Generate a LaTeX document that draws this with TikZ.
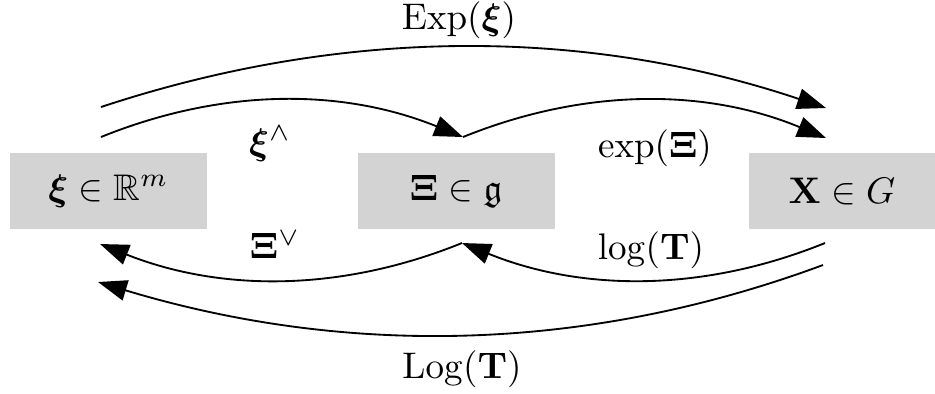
\documentclass[tikz,border=0pt]{standalone}
\usepackage{amsmath,amssymb,bm}
\usetikzlibrary{arrows.meta}
\definecolor{boxgray}{RGB}{211,211,211}
\tikzset{
  setbox/.style={fill=boxgray, draw=none, minimum width=197*0.27pt, minimum height=76*0.27pt, inner sep=0pt},
  maparrow/.style={line width=0.5pt, -{Triangle[length=7.8pt,width=5.6pt]}},
  lbl/.style={inner sep=0pt}
}
\begin{document}
\begin{tikzpicture}[x=0.27pt,y=-0.27pt]
\useasboundingbox (0,0) rectangle (935,393);
% boxes
\node[setbox] (R) at (108.5,191) {$\bm{\xi}\in\mathbb{R}^m$};
\node[setbox] (g) at (456,191) {$\mathbf{\Xi}\in\mathfrak{g}$};
\node[setbox, minimum width=186*0.27pt] (G) at (842,191) {$\mathbf{X}\in G$};
% connector end points
\coordinate (a1) at (101,107);
\coordinate (b1) at (826,108);
\coordinate (a2) at (101,137);
\coordinate (m2) at (463,137);
\coordinate (b2) at (826,138);
\coordinate (c3) at (825,243);
\coordinate (m3) at (462,243);
\coordinate (d3) at (100,244);
\coordinate (c4) at (823,265);
\coordinate (d4) at (98,282);
% arrows
\draw[maparrow] (a1) .. controls (343,27) and (584,27) .. (b1);
\draw[maparrow] (a2) .. controls (222,88) and (342,88) .. (m2);
\draw[maparrow] (m2) .. controls (584,88) and (705,88) .. (b2);
\draw[maparrow] (c3) .. controls (704,292) and (583,292) .. (m3);
\draw[maparrow] (m3) .. controls (341,292) and (221,292) .. (d3);
\draw[maparrow] (c4) .. controls (580,355) and (340,355) .. (d4);
% labels
\node[lbl] (lExp) at (459,20) {$\mathrm{Exp}(\bm{\xi})$};
\node[lbl] (lhat) at (270,144) {$\bm{\xi}^{\wedge}$};
\node[lbl] (lexp) at (655,148) {$\exp(\mathbf{\Xi})$};
\node[lbl] (lvee) at (275,245) {$\mathbf{\Xi}^{\vee}$};
\node[lbl] (llog) at (651,250) {$\log(\mathbf{T})$};
\node[lbl] (lLog) at (462,369) {$\mathrm{Log}(\mathbf{T})$};
\end{tikzpicture}
\end{document}
